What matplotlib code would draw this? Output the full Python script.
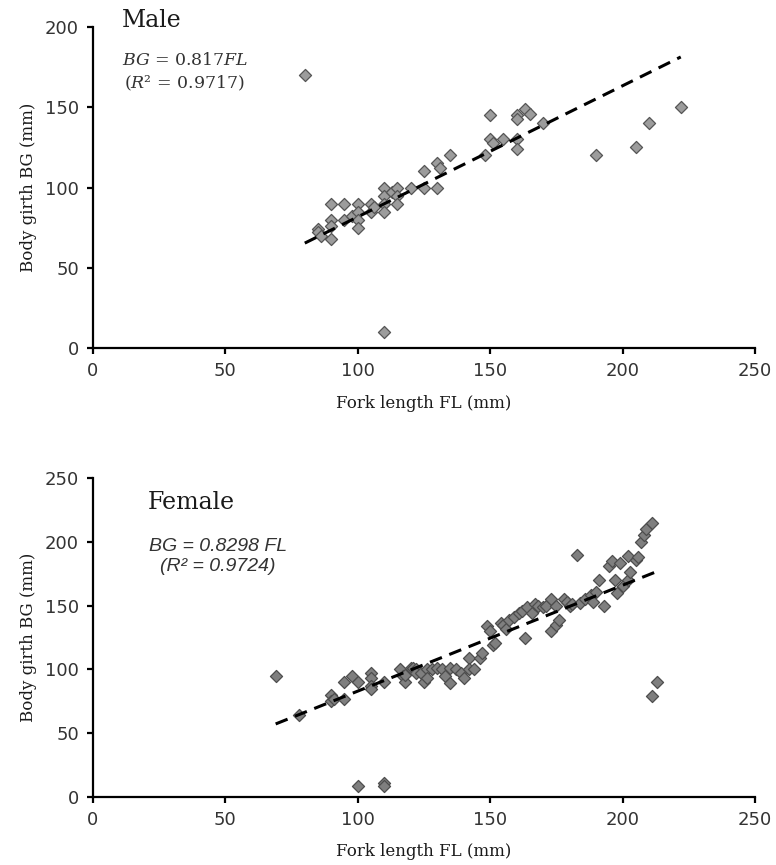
#!/usr/bin/env python

import numpy as np
from matplotlib import pyplot as plt

plt.rcParams['mathtext.fontset'] = 'custom'
plt.rcParams['mathtext.rm'] = 'DejaVu Serif'
plt.rcParams['mathtext.it'] = 'DejaVu Serif:italic'

# Male: fork length (mm) vs body girth (mm)
male_fl = [80, 85, 85, 86, 90, 90, 90, 90, 95, 95, 98, 100, 100, 100, 100,
           105, 105, 106, 110, 110, 110, 110, 110, 113, 115, 115, 115, 120,
           125, 125, 130, 130, 131, 135, 148, 150, 150, 151, 155, 160, 160,
           160, 160, 163, 165, 170, 190, 205, 210, 222]
male_bg = [170, 74, 72, 70, 90, 80, 76, 68, 90, 80, 82, 90, 85, 80, 75,
           90, 85, 88, 100, 95, 90, 85, 10, 97, 100, 95, 90, 100,
           110, 100, 100, 115, 112, 120, 120, 145, 130, 128, 130, 145, 143,
           130, 124, 149, 146, 140, 120, 125, 140, 150]

# Female
female_fl = [69, 78, 90, 90, 91, 95, 95, 98, 100, 100, 105, 105, 105, 105,
             110, 110, 110, 116, 117, 118, 118, 120, 121, 122, 122, 124, 125,
             126, 126, 128, 130, 132, 133, 135, 135, 137, 139, 140, 142, 142,
             144, 146, 147, 149, 150, 151, 152, 154, 155, 156, 157, 159, 161,
             162, 163, 164, 166, 167, 168, 170, 171, 173, 173, 175, 175, 176,
             178, 179, 180, 181, 183, 184, 186, 188, 189, 190, 191, 193, 195,
             196, 197, 198, 199, 200, 202, 202, 203, 205, 206, 207, 208, 209,
             211, 213, 211]
female_bg = [95, 64, 80, 75, 77, 90, 77, 95, 90, 9, 97, 93, 87, 85,
             90, 11, 9, 100, 95, 90, 96, 101, 101, 100, 97, 97, 90,
             100, 93, 100, 101, 100, 95, 89, 101, 100, 97, 93, 109, 100,
             100, 109, 113, 134, 130, 119, 121, 136, 135, 132, 139, 141, 144,
             146, 125, 149, 144, 151, 150, 149, 150, 130, 155, 150, 135, 139,
             155, 153, 150, 151, 190, 152, 155, 158, 153, 161, 170, 150, 181,
             185, 170, 160, 183, 165, 170, 189, 176, 186, 188, 200, 205, 210,
             215, 90, 79]

male_slope = 0.817
female_slope = 0.8298

ticks_x = [0, 50, 100, 150, 200, 250]


def style_axes(ax, yticks):
    ax.set_xlim(0, 250)
    ax.set_ylim(0, yticks[-1])
    ax.set_xticks(ticks_x)
    ax.set_yticks(yticks)
    for side in ['right', 'top']:
        ax.spines[side].set_visible(False)
    for side in ['left', 'bottom']:
        ax.spines[side].set_linewidth(1.6)
    ax.tick_params(direction='out', length=4, width=1.6, pad=6,
                   labelsize=13, labelcolor='#333333')
    for lab in ax.get_xticklabels() + ax.get_yticklabels():
        lab.set_family('DejaVu Sans')
    ax.set_xlabel('Fork length FL (mm)', family='DejaVu Serif', fontsize=12, color='#1a1a1a')
    ax.set_ylabel('Body girth BG (mm)', family='DejaVu Serif', fontsize=12, color='#1a1a1a')
    ax.xaxis.set_label_coords(0.5, -0.145)
    ax.yaxis.set_label_coords(-0.085, 0.5)


def draw_panel(ax, fl, bg, slope, face, edge):
    ax.scatter(fl, bg, marker='D', s=38, facecolor=face, edgecolor=edge,
               linewidth=0.9, zorder=3)
    xs = np.array([min(fl), max(fl)])
    ax.plot(xs, slope * xs, color='black', linewidth=2.2,
            dashes=(4.2, 2.6), zorder=4)


fig = plt.figure(figsize=(7.76, 8.65), dpi=100)
ax1 = fig.add_axes([0.1198, 0.5977, 0.853, 0.371])
ax2 = fig.add_axes([0.1198, 0.0786, 0.853, 0.3688])

draw_panel(ax1, male_fl, male_bg, male_slope, '#9c9c9c', '#555555')
style_axes(ax1, [0, 50, 100, 150, 200])
ax1.text(0.044, 1.022, 'Male', transform=ax1.transAxes, family='DejaVu Serif',
         fontsize=17, va='center', ha='left', color='#1a1a1a')
ax1.text(0.044, 0.897, r'$BG$ = 0.817$FL$', transform=ax1.transAxes,
         fontsize=12.5, va='center', ha='left', color='#333333', family='DejaVu Serif')
ax1.text(0.047, 0.826, r'($R$² = 0.9717)', transform=ax1.transAxes,
         fontsize=12.5, va='center', ha='left', color='#333333', family='DejaVu Serif')

draw_panel(ax2, female_fl, female_bg, female_slope, '#7f7f7f', '#4d4d4d')
style_axes(ax2, [0, 50, 100, 150, 200, 250])
ax2.text(0.083, 0.922, 'Female', transform=ax2.transAxes, family='DejaVu Serif',
         fontsize=17, va='center', ha='left', color='#1a1a1a')
ax2.text(0.189, 0.784, 'BG = 0.8298 FL', transform=ax2.transAxes,
         family='Liberation Sans', style='italic', fontsize=14,
         va='center', ha='center', color='#333333')
ax2.text(0.189, 0.724, '(R² = 0.9724)', transform=ax2.transAxes,
         family='Liberation Sans', style='italic', fontsize=14,
         va='center', ha='center', color='#333333')

fig.savefig('out.png', dpi=100)
